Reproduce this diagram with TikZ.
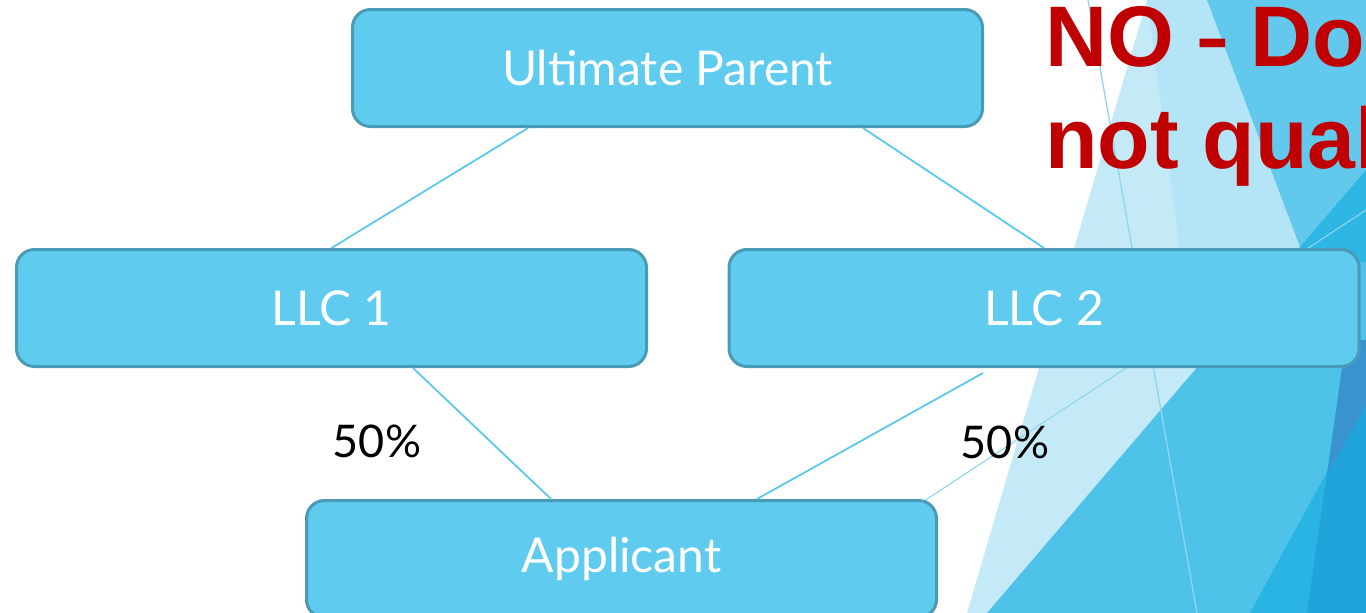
\documentclass[tikz,border=0pt]{standalone}
\usepackage{fontspec}
\setmainfont{Lato}
\newfontfamily\redfont{Liberation Sans}
\usetikzlibrary{calc}
\definecolor{boxfill}{HTML}{5FCBEF}
\definecolor{boxedge}{HTML}{4A9AB6}
\definecolor{conn}{HTML}{5BC8EC}
\definecolor{redtxt}{HTML}{C00000}
\definecolor{facA}{HTML}{C5EAF7}
\definecolor{facB}{HTML}{B3E5F6}
\definecolor{facC}{HTML}{63C9EC}
\definecolor{facD}{HTML}{4FC2EA}
\definecolor{facE}{HTML}{2EB6E5}
\definecolor{facF}{HTML}{2AB4E4}
\definecolor{facG}{HTML}{21A4DA}
\definecolor{facH}{HTML}{3A93CE}
\definecolor{thinline}{HTML}{8ED6F1}
\begin{document}
\begin{tikzpicture}[x=1pt,y=-1pt,
  boxnode/.style={draw=boxedge, line width=3pt, fill=boxfill, rounded corners=18pt,
    minimum width=630pt, minimum height=117pt, inner sep=0pt,
    text=white, font=\fontsize{48}{48}\selectfont},
  connline/.style={draw=conn, line width=1.8pt},
  pct/.style={text=black, font=\fontsize{45}{45}\selectfont, inner sep=0pt},
  redline/.style={text=redtxt, anchor=base west, inner sep=0pt,
    font=\redfont\bfseries\fontsize{86}{86}\selectfont}]
\useasboundingbox (0,0) rectangle (1366,613);
\clip (0,0) rectangle (1366,613);
\fill[white] (0,0) rectangle (1366,613);
% background facets
\fill[facA] (1147,0) -- (1366,0) -- (1366,613) -- (967,613) -- cycle;
\fill[facB] (1147,0) -- (1207,0) -- (1300,247) -- (1195,368) -- cycle;
\fill[facC] (1207,0) -- (1366,0) -- (1366,170) -- (1300,247) -- cycle;
\fill[facD] (1300,247) -- (1366,170) -- (1366,613) -- (987,613) -- cycle;
\fill[facE] (1300,247) -- (1366,170) -- (1366,262) -- (1300,262) -- cycle;
\fill[facF] (1250,613) -- (1366,400) -- (1366,613) -- cycle;
\fill[facG] (1346,340) -- (1366,340) -- (1366,613) -- (1307,613) -- cycle;
\fill[facH] (1346,340) -- (1366,340) -- (1366,405) -- (1328,473) -- cycle;
\draw[thinline, line width=1.3pt] (1088,0) -- (1197,613);
\draw[thinline, line width=1.1pt] (754,613) -- (1366,210);
% title
\node[redline] (t1) at (1045,66) {NO \scalebox{0.6}[1]{–} Doe};
\node[redline] (t2) at (1045,168) {not qual};
% boxes
\node[boxnode] (up) at (667.5,68) {Ultimate Parent};
\node[boxnode] (l1) at (331.5,308) {LLC 1};
\node[boxnode] (l2) at (1044,308) {LLC 2};
\node[boxnode] (app) at (621.5,559) {Applicant};
% connectors
\coordinate (upL) at ($(up.south)+(-139.5,0)$);
\coordinate (upR) at ($(up.south)+(195.5,0)$);
\coordinate (l1B) at ($(l1.south)+(81.5,0)$);
\coordinate (l2B) at ($(l2.south)+(-61,5)$);
\coordinate (appL) at ($(app.north)+(-70.5,0)$);
\coordinate (appR) at ($(app.north)+(135.5,0)$);
\draw[connline] (upL) -- (l1.north);
\draw[connline] (upR) -- (l2.north);
\draw[connline] (l1B) -- (appL);
\draw[connline] (l2B) -- (appR);
% labels
\node[pct] (p1) at (377,441) {50\%};
\node[pct] (p2) at (1005,442) {50\%};
\end{tikzpicture}
\end{document}
